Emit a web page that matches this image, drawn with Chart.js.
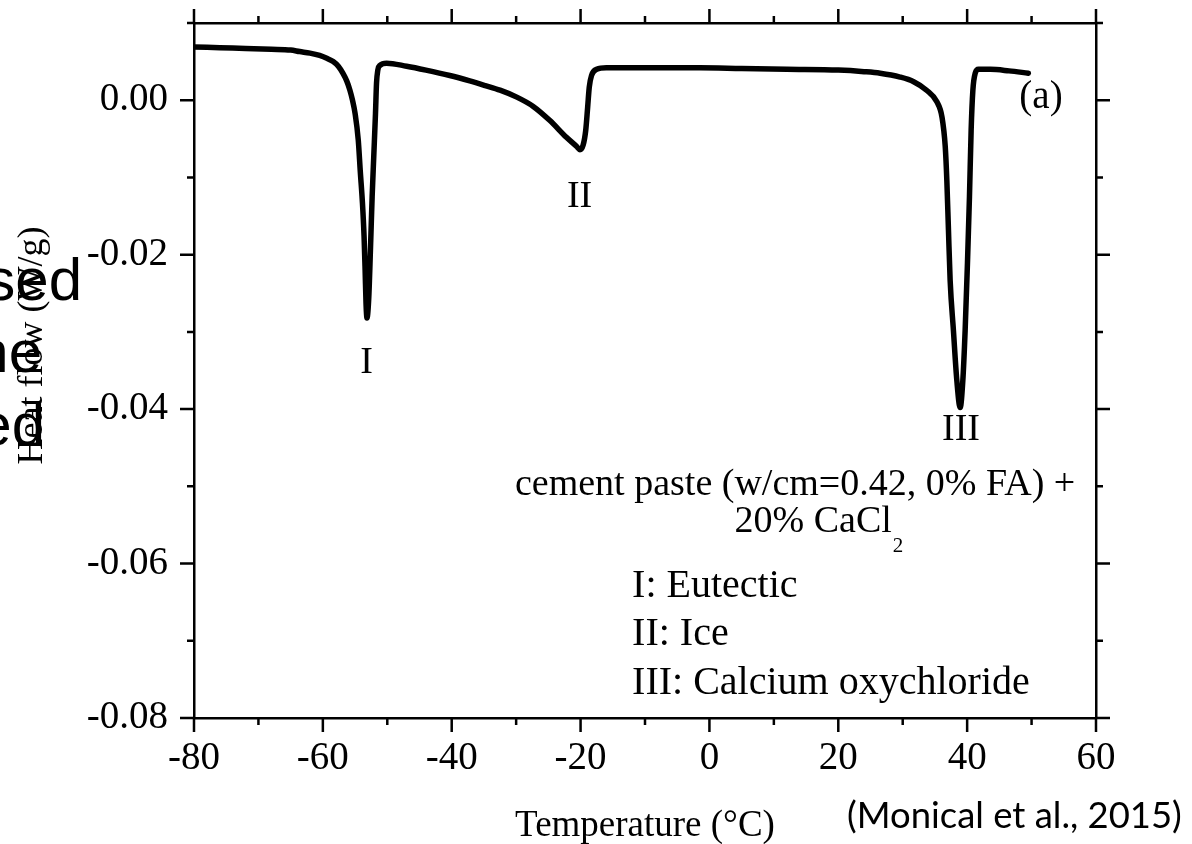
<!DOCTYPE html>
<html>
<head>
<meta charset="utf-8">
<script src="https://cdn.jsdelivr.net/npm/chart.js@4.4.1/dist/chart.umd.min.js"></script>
<style>
  html, body { margin: 0; padding: 0; background: #ffffff; }
  #wrap { position: relative; width: 1192px; height: 844px; overflow: hidden; }
  canvas { display: block; }
</style>
</head>
<body>
<div id="wrap"><canvas id="dsc" width="1192" height="844"></canvas></div>
<script>
// DSC scan of cement paste with 20% CaCl2: temperature (°C) vs heat flow (W/g)
const temperature = [
  -80, -76, -72, -68, -65, -63.6, -62, -60.5, -59.3, -58.4, -57.6, -56.9, -56.3, -55.8, -55.4,
  -55.0, -54.5, -54.2, -53.85, -53.6, -53.44, -53.3, -53.15,
  -52.87, -52.6, -52.35, -52.1, -51.83, -51.67, -51.47, -51.16, -50.1,
  -47, -44, -40.3, -37.2, -34.8, -32.5, -29.9, -27.35, -24.8, -22.2, -20.6, -20.1,
  -19.6, -19.2, -18.9, -18.65, -18.3, -17.5, -16, -10, -1.5, 5, 12, 20, 24, 26.5,
  29.6, 31.7, 33.7, 35.3, 36.1, 36.6, 36.85, 37.1, 37.36, 37.87, 38.4, 38.92,
  39.33, 39.69, 40.05, 40.36, 40.62, 40.89, 41.25, 41.76, 43.6, 46.5, 49.5
];
const heatFlow = [
  0.0069, 0.0068, 0.0067, 0.0066, 0.0065, 0.0063, 0.0061, 0.0058, 0.0054, 0.0050, 0.0044, 0.0035, 0.0025, 0.0013, 0.0000,
  -0.0017, -0.0052, -0.0091, -0.0134, -0.0177, -0.0220, -0.0263, -0.0282,
  -0.0255, -0.0190, -0.0125, -0.0073, -0.0017, 0.0022, 0.0039, 0.0045, 0.0048,
  0.0044, 0.0039, 0.0032, 0.0025, 0.0019, 0.0013, 0.0004, -0.0008, -0.0026, -0.0048, -0.0060, -0.0064,
  -0.0058, -0.0039, -0.0009, 0.0017, 0.0032, 0.0040, 0.0042, 0.0042, 0.0042, 0.0041, 0.0040, 0.0039, 0.0037, 0.0035,
  0.0030, 0.0024, 0.0013, -0.0002, -0.0022, -0.0060, -0.0104, -0.0168, -0.0233, -0.0298, -0.0363, -0.0398,
  -0.0363, -0.0298, -0.0211, -0.0125, -0.0039, 0.0013, 0.0035, 0.0040, 0.0040, 0.0038, 0.0035
];

// Axis ticks
const xMajorTicks = [-80, -60, -40, -20, 0, 20, 40, 60];
const xMinorTicks = [-70, -50, -30, -10, 10, 30, 50];
const yMajorTicks = [-0.08, -0.06, -0.04, -0.02, 0.00];
const yMinorTicks = [-0.07, -0.05, -0.03, -0.01, 0.01];

// Peak names and the legend lines
const peakNames = ['I', 'II', 'III'];
const sampleLine = 'cement paste (w/cm=0.42, 0% FA) +';
const saltLine = '20% CaCl';
const saltSub = '2';
const legendLines = ['I: Eutectic', 'II: Ice', 'III: Calcium oxychloride'];
const panelTag = '(a)';
const xTitle = 'Temperature (°C)';
const yTitle = 'Heat flow (W/g)';
const sourceNote = '(Monical et al., 2015)';
const sideText = ['sed', 'he', 'ed'];

const SERIF = '"Liberation Serif", "Times New Roman", Times, serif';
const SANS = '"Liberation Sans", Arial, sans-serif';
const NOTE_FONT = 'Lato, "Open Sans", sans-serif';
const INK = '#000000';

const points = temperature.map((t, i) => ({ x: t, y: heatFlow[i] }));

function fixedTicks(list) {
  return scale => { scale.ticks = list.map(v => ({ value: v })); };
}
function fixSize(prop, size) {
  return scale => {
    scale[prop] = size;
    scale.paddingTop = scale.paddingBottom = scale.paddingLeft = scale.paddingRight = 0;
  };
}

// Side text that sits behind the figure on the left
const backdropText = {
  id: 'backdropText',
  beforeDraw(chart) {
    const ctx = chart.ctx;
    ctx.save();
    ctx.fillStyle = INK;
    ctx.font = '60px ' + SANS;
    ctx.textAlign = 'right';
    ctx.textBaseline = 'alphabetic';
    ctx.fillText(sideText[0], 82, 300);
    ctx.fillText(sideText[1], 42, 372);
    ctx.fillText(sideText[2], 45, 445);
    ctx.restore();
  }
};

// Major and minor tick marks on all four sides
const tickMarks = {
  id: 'tickMarks',
  afterDraw(chart) {
    const { ctx, chartArea: a, scales: { x, y } } = chart;
    const MAJ = 14, MIN = 7;
    ctx.save();
    ctx.strokeStyle = INK;
    ctx.lineWidth = 2.5;
    ctx.lineCap = 'butt';
    ctx.beginPath();
    const hx = (v, len) => {
      const px = x.getPixelForValue(v);
      ctx.moveTo(px, a.bottom); ctx.lineTo(px, a.bottom + len);
      ctx.moveTo(px, a.top); ctx.lineTo(px, a.top - len);
    };
    const vy = (v, len) => {
      const py = y.getPixelForValue(v);
      ctx.moveTo(a.left, py); ctx.lineTo(a.left - len, py);
      ctx.moveTo(a.right, py); ctx.lineTo(a.right + len, py);
    };
    xMajorTicks.forEach(v => hx(v, MAJ));
    xMinorTicks.forEach(v => hx(v, MIN));
    yMajorTicks.forEach(v => vy(v, MAJ));
    yMinorTicks.forEach(v => vy(v, MIN));
    ctx.stroke();
    ctx.restore();
  }
};

// Peak names, sample description, legend text and axis titles
const annotations = {
  id: 'annotations',
  afterDraw(chart) {
    const { ctx, scales: { x, y } } = chart;
    const at = (tx, hy) => [x.getPixelForValue(tx), y.getPixelForValue(hy)];
    const put = (s, p, size, align, family) => {
      ctx.font = size + 'px ' + (family || SERIF);
      ctx.textAlign = align;
      ctx.fillText(s, p[0], p[1]);
    };
    ctx.save();
    ctx.fillStyle = INK;
    ctx.textBaseline = 'alphabetic';

    put(peakNames[0], at(-53.23, -0.03535), 38, 'center');
    put(peakNames[1], at(-20.15, -0.01382), 38, 'center');
    put(peakNames[2], at(39.04, -0.04403), 38, 'center');
    put(panelTag, at(48.1, -0.00107), 39, 'left');

    put(sampleLine, at(56.78, -0.05116), 38, 'right');
    const s = at(28.31, -0.0559);
    put(saltLine, s, 38, 'right');
    put(saltSub, [s[0] + 1, s[1] + 20], 21, 'left');

    const legendY = [-0.06433, -0.07058, -0.07684];
    legendLines.forEach((line, i) => put(line, at(-12.0, legendY[i]), 40, 'left'));

    // axis titles
    put(xTitle, [(x.left + x.right) / 2, 836], 37, 'center');
    ctx.save();
    ctx.translate(42, 345.5);
    ctx.rotate(-Math.PI / 2);
    put(yTitle, [0, 0], 36, 'center');
    ctx.restore();

    // source note, sized to its printed width
    ctx.font = '40px ' + NOTE_FONT;
    const w = ctx.measureText(sourceNote).width;
    put(sourceNote, [847, 828], (40 * 335 / w).toFixed(2), 'left', NOTE_FONT);
    ctx.restore();
  }
};

const tickFont = { family: SERIF, size: 39 };

new Chart(document.getElementById('dsc'), {
  type: 'line',
  data: {
    datasets: [{
      data: points,
      borderColor: INK,
      borderWidth: 5.5,
      pointRadius: 0,
      cubicInterpolationMode: 'monotone',
      borderCapStyle: 'round',
      borderJoinStyle: 'round',
      fill: false
    }]
  },
  options: {
    responsive: false,
    animation: false,
    devicePixelRatio: 1,
    layout: { padding: 0 },
    plugins: { legend: { display: false }, tooltip: { enabled: false } },
    scales: {
      x: {
        type: 'linear', position: 'bottom', min: -80, max: 60,
        afterBuildTicks: fixedTicks(xMajorTicks),
        afterFit: fixSize('height', 126),
        grid: { display: false, drawTicks: false },
        border: { display: true, color: INK, width: 2.5 },
        ticks: { font: tickFont, color: INK, padding: 17, maxRotation: 0, autoSkip: false,
                 callback: v => String(v) }
      },
      y: {
        type: 'linear', position: 'left', min: -0.08, max: 0.01,
        afterBuildTicks: fixedTicks(yMajorTicks),
        afterFit: fixSize('width', 194),
        grid: { display: false, drawTicks: false },
        border: { display: true, color: INK, width: 2.5 },
        ticks: { font: tickFont, color: INK, padding: 26, autoSkip: false,
                 callback: v => (Math.abs(v) < 1e-9 ? 0 : v).toFixed(2) }
      },
      xTop: {
        type: 'linear', position: 'top', min: -80, max: 60,
        afterBuildTicks: fixedTicks(xMajorTicks),
        afterFit: fixSize('height', 23),
        grid: { display: false, drawTicks: false },
        border: { display: true, color: INK, width: 2.5 },
        ticks: { display: false }
      },
      yRight: {
        type: 'linear', position: 'right', min: -0.08, max: 0.01,
        afterBuildTicks: fixedTicks(yMajorTicks),
        afterFit: fixSize('width', 96),
        grid: { display: false, drawTicks: false },
        border: { display: true, color: INK, width: 2.5 },
        ticks: { display: false }
      }
    }
  },
  plugins: [backdropText, tickMarks, annotations]
});
</script>
</body>
</html>
